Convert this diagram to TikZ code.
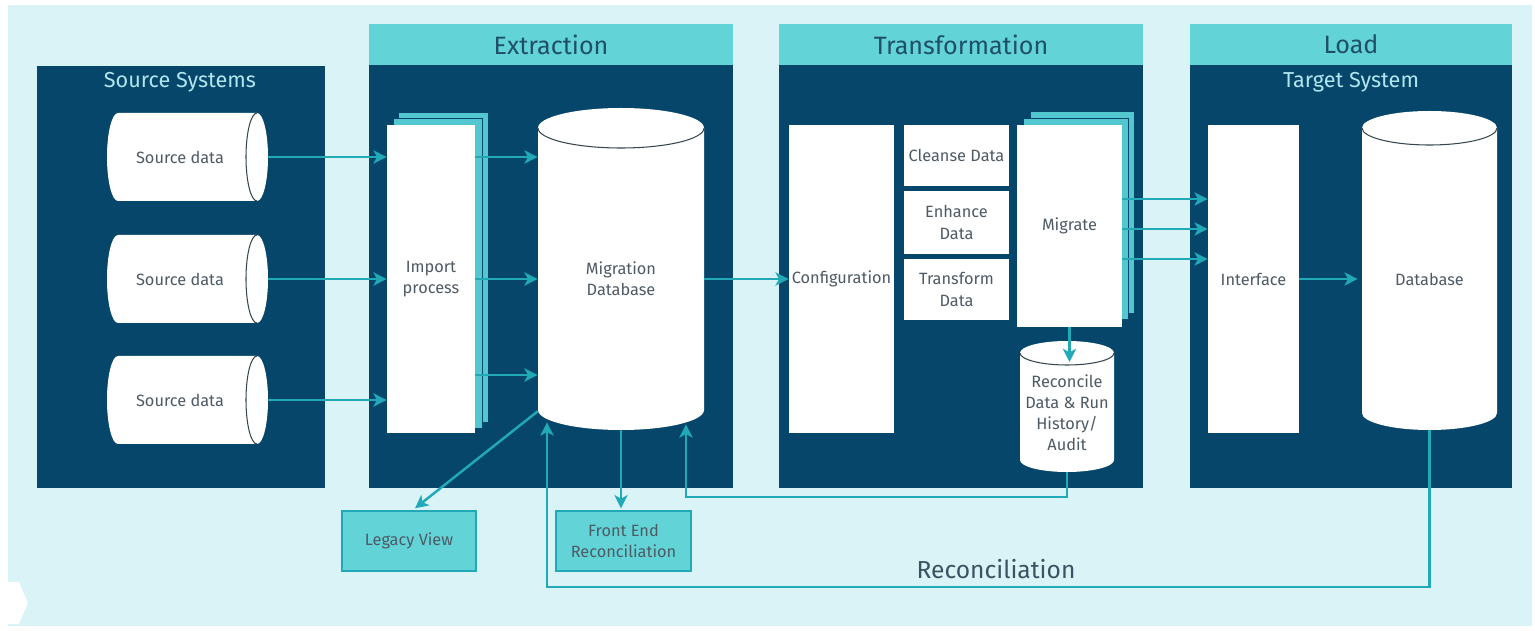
\documentclass[tikz,border=0pt]{standalone}
\usepackage{fontspec}
\setmainfont{Fira Sans}
\usetikzlibrary{arrows.meta,fit,calc}
\definecolor{bgc}{HTML}{D9F3F6}
\definecolor{navy}{HTML}{06466A}
\definecolor{hteal}{HTML}{62D4D8}
\definecolor{lteal}{HTML}{52C7CF}
\definecolor{arrc}{HTML}{22A9B8}
\definecolor{btext}{HTML}{4E5A64}
\definecolor{htext}{HTML}{1F4F6A}
\definecolor{ttext}{HTML}{B2E6EE}
\definecolor{rtext}{HTML}{3C5262}
\definecolor{cyld}{HTML}{37474F}
\newcommand{\boxfont}{\fontsize{9.3}{12}\selectfont}
\newcommand{\vcyl}[5]{%
 \pgfmathsetmacro\cyA{(#1+#2)/2}%
 \pgfmathsetmacro\cyB{(#2-#1)/2*0.552}%
 \pgfmathsetmacro\cyC{#5*0.552}%
 \fill[white] (#1,#3) -- (#1,#4) .. controls (#1,#4+\cyC) and (\cyA-\cyB,#4+#5) .. (\cyA,#4+#5) .. controls (\cyA+\cyB,#4+#5) and (#2,#4+\cyC) .. (#2,#4) -- (#2,#3) .. controls (#2,#3-\cyC) and (\cyA+\cyB,#3-#5) .. (\cyA,#3-#5) .. controls (\cyA-\cyB,#3-#5) and (#1,#3-\cyC) .. (#1,#3) -- cycle;
 \draw[cylline] (#1,#3) .. controls (#1,#3+\cyC) and (\cyA-\cyB,#3+#5) .. (\cyA,#3+#5) .. controls (\cyA+\cyB,#3+#5) and (#2,#3+\cyC) .. (#2,#3);
}
\newcommand{\hcyl}[5]{%
 \pgfmathsetmacro\cyA{(#3+#4)/2}%
 \pgfmathsetmacro\cyB{(#4-#3)/2*0.552}%
 \pgfmathsetmacro\cyC{#5*0.552}%
 \fill[white] (#1,#3) -- (#2,#3) .. controls (#2+\cyC,#3) and (#2+#5,\cyA-\cyB) .. (#2+#5,\cyA) .. controls (#2+#5,\cyA+\cyB) and (#2+\cyC,#4) .. (#2,#4) -- (#1,#4) .. controls (#1-\cyC,#4) and (#1-#5,\cyA+\cyB) .. (#1-#5,\cyA) .. controls (#1-#5,\cyA-\cyB) and (#1-\cyC,#3) .. (#1,#3) -- cycle;
 \draw[cylline] (#2,#3) .. controls (#2-\cyC,#3) and (#2-#5,\cyA-\cyB) .. (#2-#5,\cyA) .. controls (#2-#5,\cyA+\cyB) and (#2-\cyC,#4) .. (#2,#4);
}
\tikzset{
 panel/.style={fill=navy, draw=none, inner sep=0pt},
 hdr/.style={fill=hteal, inner sep=0pt},
 hdrt/.style={inner sep=0pt, text=htext, font=\fontsize{14.3}{16}\selectfont},
 ptitle/.style={inner sep=0pt, text=ttext, font=\fontsize{12.3}{14}\selectfont},
 wbox/.style={fill=white, inner sep=0pt},
 layer/.style={fill=lteal, draw=navy, line width=0.5pt},
 tbox/.style={fill=hteal, draw=arrc, line width=0.8pt, inner sep=0pt},
 cyl/.style={inner sep=0pt},
 lbl/.style={inner sep=0pt, text=btext, font=\boxfont, align=center},
 cylline/.style={draw=cyld, line width=0.6pt},
 arr/.style={draw=arrc, line width=1.4pt, -{Stealth[length=7.5pt,width=7.5pt,inset=2pt]}},
}
\begin{document}
\begin{tikzpicture}[x=0.02cm,y=-0.02cm]
\useasboundingbox (0,0) rectangle (1535,631);
\fill[white] (0,0) rectangle (1535,631);
\fill[bgc] (8,5) rectangle (1532,626);
\fill[white] (8,582) -- (19,582) -- (28,603) -- (19,624) -- (8,624) -- cycle;

% panels and headers
\node[panel, fit={(37,66)(325,488)}] (ss) {};
\node[panel, fit={(369,65)(733,488)}] (ex) {};
\node[panel, fit={(779,65)(1143,488)}] (tr) {};
\node[panel, fit={(1190,65)(1512,488)}] (ld) {};
\node[hdr, fit={(369,24)(733,65)}] (hex) {};
\node[hdr, fit={(779,24)(1143,65)}] (htr) {};
\node[hdr, fit={(1190,24)(1512,65)}] (hld) {};
\node[hdrt] (hext) at (hex.center) {Extraction};
\node[hdrt] (htrt) at (htr.center) {Transformation};
\node[hdrt] (hldt) at (hld.center) {Load};
\node[ptitle] (tss) at (180,82) {Source Systems};
\node[ptitle] (tld) at (1351,82) {Target System};

% source cylinders
\hcyl{118}{257}{113}{201}{11}
\hcyl{118}{257}{235}{323}{11}
\hcyl{118}{257}{356}{444}{11}
\node[cyl, fit={(107,113)(268,201)}] (src1) {};
\node[cyl, fit={(107,235)(268,323)}] (src2) {};
\node[cyl, fit={(107,356)(268,444)}] (src3) {};
\node[lbl] (src1t) at (180,157) {Source data};
\node[lbl] (src2t) at (180,279) {Source data};
\node[lbl] (src3t) at (180,400) {Source data};

% import process
\filldraw[layer] (398,112) rectangle (488,422);
\filldraw[layer] (393,118) rectangle (482,428);
\node[wbox, fit={(387,125)(475,433)}] (imp) {};
\node[lbl] (impt) at (imp.center) {Import\\process};

% migration database
\vcyl{538}{704}{128}{410}{20}
\node[cyl, fit={(538,128)(704,430)}] (mdb) {};
\node[lbl] (mdbt) at (mdb.center) {Migration\\Database};

% transformation
\node[wbox, fit={(789,125)(894,433)}] (conf) {};
\node[wbox, fit={(904,125)(1009,186)}] (cln) {};
\node[wbox, fit={(904,191)(1009,254)}] (enh) {};
\node[wbox, fit={(904,259)(1009,320)}] (trf) {};
\node[lbl] (conft) at (conf.center) {Configuration};
\node[lbl] (clnt) at (cln.center) {Cleanse Data};
\node[lbl] (enht) at (enh.center) {Enhance\\Data};
\node[lbl] (trft) at (trf.center) {Transform\\Data};
\filldraw[layer] (1030,111) rectangle (1134,313);
\filldraw[layer] (1023,118) rectangle (1128,319);
\node[wbox, fit={(1017,125)(1122,327)}] (mig) {};
\node[lbl] (migt) at (mig.center) {Migrate};
\vcyl{1020}{1114}{353}{460}{12}
\node[cyl, fit={(1020,353)(1114,472)}] (rec) {};
\node[lbl] (rect) at (rec.center) {Reconcile\\Data \& Run\\History/\\Audit};

% load
\node[wbox, fit={(1208,125)(1299,433)}] (intf) {};
\node[lbl] (intft) at (intf.center) {Interface};
\vcyl{1362}{1497}{128}{413}{17}
\node[cyl, fit={(1362,128)(1497,430)}] (tdb) {};
\node[lbl] (tdbt) at (tdb.center) {Database};

% outputs
\node[tbox, fit={(342,511)(476,571)}] (lv) {};
\node[tbox, fit={(556,511)(691,571)}] (fer) {};
\node[lbl] (lvt) at (lv.center) {Legacy View};
\node[lbl] (fert) at (fer.center) {Front End\\Reconciliation};
\node[inner sep=0pt, text=rtext, font=\fontsize{14}{16}\selectfont] (recl) at (996,569) {Reconciliation};

% connectors
\draw[arr] (src1.east) -- (src1.east -| imp.west);
\draw[arr] (src2.east) -- (src2.east -| imp.west);
\draw[arr] (src3.east) -- (src3.east -| imp.west);
\draw[arr] (imp.east |- 0,157) -- (mdb.west |- 0,157);
\draw[arr] (imp.east |- 0,279) -- (mdb.west |- 0,279);
\draw[arr] (imp.east |- 0,375) -- (mdb.west |- 0,375);
\draw[arr] (mdb.east |- conf.west) -- (conf.west);
\draw[arr] (mig.east |- 0,199) -- (intf.west |- 0,199);
\draw[arr] (mig.east |- 0,229) -- (intf.west |- 0,229);
\draw[arr] (mig.east |- 0,259) -- (intf.west |- 0,259);
\draw[arr] (intf.east) -- ($(intf.east -| tdb.west)+(-4,0)$);
\draw[arr] (mig.south) -- (mig.south |- 0,362);
\draw[arr] (rec.south) -- (rec.south |- 0,497) -| ($(mdb.south)+(65,-6)$);
\draw[arr] (tdb.south) -- (tdb.south |- 0,587) -| ($(mdb.south)+(-74,-8)$);
\draw[arr] ($(mdb.south west)+(0,-19)$) -- ($(lv.north)+(6,-2)$);
\draw[arr] (mdb.south) -- ($(mdb.south |- fer.north)+(0,-2)$);
\end{tikzpicture}
\end{document}
